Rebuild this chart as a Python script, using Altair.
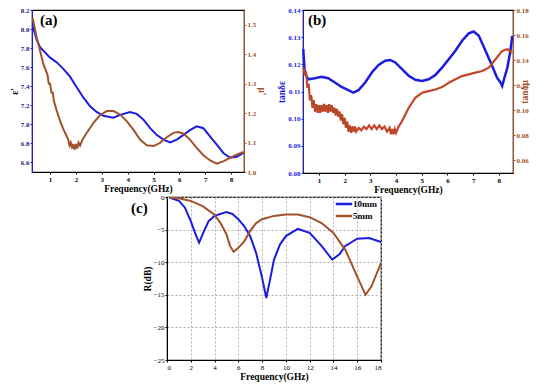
import altair as alt
import pandas as pd

FONT = "Liberation Serif"
BLUE = "#1c1ce0"
BROWN = "#a0522d"
RED = "#e23b2b"

# ---------- panel (a) ----------
a_eps_f = [0.32, 0.48, 0.61, 1.0, 1.26, 1.52, 1.77, 2.03, 2.29, 2.55, 2.80, 3.06, 3.45, 3.71, 4.09,
           4.35, 4.61, 4.87, 5.12, 5.38, 5.64, 5.90, 6.16, 6.41, 6.67, 6.93, 7.19, 7.44, 7.70, 7.96,
           8.22, 8.48]
a_eps = [8.04, 7.89, 7.81, 7.70, 7.65, 7.58, 7.50, 7.39, 7.28, 7.19, 7.13, 7.09, 7.07, 7.10, 7.13,
         7.11, 7.05, 6.96, 6.89, 6.84, 6.81, 6.84, 6.89, 6.94, 6.98, 6.96, 6.87, 6.79, 6.70, 6.65,
         6.66, 6.70]

a_mu_f = [0.32, 0.48, 0.74, 0.90, 0.95, 1.00, 1.05, 1.10, 1.15, 1.26, 1.40, 1.52, 1.60, 1.70, 1.75,
          1.80, 1.85, 1.90, 1.95, 2.00, 2.05, 2.10, 2.16, 2.25, 2.42, 2.68, 2.93, 3.19, 3.45, 3.71,
          3.96, 4.22, 4.48, 4.74, 5.00, 5.25, 5.51, 5.77, 5.96, 6.16, 6.41, 6.67, 6.93, 7.19, 7.44,
          7.70, 7.96, 8.22, 8.48]
a_mu = [1.525, 1.457, 1.366, 1.33, 1.30, 1.30, 1.27, 1.27, 1.24, 1.207, 1.17, 1.144, 1.13, 1.11, 1.09,
        1.10, 1.08, 1.095, 1.075, 1.095, 1.08, 1.10, 1.09, 1.11, 1.133, 1.167, 1.193, 1.207, 1.207, 1.195,
        1.173, 1.144, 1.110, 1.091, 1.088, 1.099, 1.118, 1.133, 1.136, 1.130, 1.110, 1.082, 1.057, 1.039, 1.028,
        1.036, 1.048, 1.059, 1.068]

# ---------- panel (b) ----------
b_eps_f = [0.39, 0.45, 0.58, 0.84, 1.10, 1.36, 1.62, 1.88, 2.14, 2.34, 2.54, 2.80, 3.06, 3.32, 3.58,
           3.77, 3.97, 4.23, 4.49, 4.75, 5.01, 5.27, 5.53, 5.79, 6.05, 6.31, 6.57, 6.83, 7.02, 7.22,
           7.48, 7.74, 7.93, 8.05, 8.13, 8.20, 8.33, 8.45, 8.52]
b_eps = [0.1256, 0.117, 0.1145, 0.1149, 0.1154, 0.1149, 0.1133, 0.1117, 0.1105, 0.1096, 0.1105, 0.1133,
         0.117, 0.1198, 0.1213, 0.1216, 0.1207, 0.1182, 0.1158, 0.1143, 0.1139, 0.1145, 0.1161, 0.1188,
         0.1219, 0.125, 0.1287, 0.1314, 0.1321, 0.1305, 0.125, 0.1194, 0.1151, 0.1135, 0.112, 0.1145,
         0.1188, 0.125, 0.1305]

b_mu_f = [0.40, 0.45, 0.50, 0.55, 0.60, 0.65, 0.70, 0.75, 0.80, 0.85, 0.90, 0.95, 1.00, 1.05, 1.10,
          1.15, 1.20, 1.25, 1.30, 1.35, 1.40, 1.45, 1.50, 1.55, 1.60, 1.65, 1.70, 1.75, 1.80, 1.85,
          1.90, 1.95, 2.00, 2.05, 2.10, 2.15, 2.20, 2.25, 2.30, 2.35, 2.40, 2.45, 2.55, 2.65, 2.75,
          2.85, 2.95, 3.05, 3.15, 3.25, 3.35, 3.45, 3.55, 3.65, 3.75, 3.80, 3.85, 3.90, 3.95, 4.00,
          4.10, 4.23, 4.49, 4.75, 5.01, 5.27, 5.53, 5.79, 6.05, 6.31, 6.57, 6.83, 7.09, 7.35, 7.61,
          7.87, 8.13, 8.33, 8.52]
b_mu = [0.134, 0.128, 0.131, 0.118, 0.121, 0.108, 0.112, 0.102, 0.108, 0.099, 0.105, 0.098, 0.104, 0.098, 0.104,
        0.099, 0.105, 0.099, 0.104, 0.098, 0.105, 0.099, 0.104, 0.098, 0.102, 0.096, 0.101, 0.095, 0.099, 0.092,
        0.097, 0.089, 0.094, 0.086, 0.091, 0.083, 0.088, 0.082, 0.087, 0.083, 0.087, 0.083, 0.086, 0.084, 0.087,
        0.085, 0.088, 0.085, 0.088, 0.085, 0.088, 0.085, 0.087, 0.083, 0.086, 0.081, 0.085, 0.081, 0.085, 0.082,
        0.087, 0.0912, 0.1019, 0.110, 0.114, 0.1153, 0.1166, 0.1185, 0.122, 0.1247, 0.1273, 0.1287, 0.130, 0.1313, 0.134,
        0.1407, 0.1474, 0.1487, 0.146]

# ---------- panel (c) ----------
c_f10 = [0.2, 1.0, 1.5, 2.0, 2.4, 2.7, 3.0, 3.5, 4.0, 5.0, 5.5, 6.0, 6.5, 7.0, 7.5, 8.0, 8.35, 8.7,
         9.0, 9.5, 10.0, 11.0, 12.0, 13.0, 13.9, 14.5, 15.0, 16.0, 17.0, 18.0]
c_r10 = [-0.1, -0.6, -1.6, -3.7, -5.7, -7.0, -5.7, -3.7, -2.9, -2.3, -2.6, -3.4, -4.5, -6.0, -8.6, -12.4,
         -15.5, -12.4, -9.6, -7.3, -6.0, -4.9, -5.5, -7.5, -9.6, -8.8, -7.5, -6.4, -6.3, -6.9]
c_f5 = [0.2, 1.0, 2.0, 3.0, 4.0, 4.5, 5.0, 5.3, 5.6, 6.0, 6.5, 7.0, 7.5, 8.0, 9.0, 10.0, 11.0, 12.0,
        13.0, 14.0, 15.0, 16.0, 16.7, 17.2, 18.0]
c_r5 = [-0.1, -0.2, -0.6, -1.4, -2.7, -4.0, -5.7, -7.5, -8.4, -7.8, -6.8, -5.2, -4.0, -3.4, -2.9, -2.7,
        -2.7, -3.1, -4.0, -5.5, -8.1, -12.2, -15.0, -13.7, -10.1]
c_series = ["10mm", "5mm"]

a_x_ticks = [1, 2, 3, 4, 5, 6, 7, 8]
a_left_ticks = [6.6, 6.8, 7.0, 7.2, 7.4, 7.6, 7.8, 8.0, 8.2]
a_right_ticks = [1.0, 1.1, 1.2, 1.3, 1.4, 1.5]
b_left_ticks = [0.08, 0.09, 0.10, 0.11, 0.12, 0.13, 0.14]
b_right_ticks = [0.06, 0.08, 0.10, 0.12, 0.14, 0.16, 0.18]
c_x_ticks = [0, 2, 4, 6, 8, 10, 12, 14, 16, 18]
c_y_ticks = [0, -5, -10, -15, -20, -25]

VIEW = alt.ViewConfig(stroke="black", strokeWidth=1.2)


def axis(**kw):
    base = dict(labelFont=FONT, labelFontWeight="bold", labelFontSize=7, titleFont=FONT,
                titleFontWeight="bold", titleFontSize=9.5, tickSize=2, grid=False,
                domainColor="black", tickColor="black", labelColor="black", titleColor="black",
                labelPadding=1, titlePadding=1)
    base.update(kw)
    return alt.Axis(**base)


def xaxis(vals, dom):
    return alt.X("f:Q", scale=alt.Scale(domain=dom, nice=False, zero=False),
                 axis=axis(values=vals, format="d", title="Frequency(GHz)"))


def label(txt, x, y):
    return alt.Chart(pd.DataFrame({"t": [txt]})).mark_text(
        font=FONT, fontWeight="bold", fontSize=15, align="left", baseline="top", color="black"
    ).encode(text="t:N", x=alt.value(x), y=alt.value(y))


# panel a
da1 = pd.DataFrame({"f": a_eps_f, "v": a_eps})
da2 = pd.DataFrame({"f": a_mu_f, "v": a_mu})
pa1 = alt.Chart(da1).mark_line(color=BLUE, strokeWidth=2).encode(
    x=xaxis(a_x_ticks, [0.3, 8.5]),
    y=alt.Y("v:Q", scale=alt.Scale(domain=[6.5, 8.2], nice=False, zero=False),
            axis=axis(values=a_left_ticks, format=".1f", title="ε'", domainColor=BLUE,
                      tickColor=BLUE, labelColor="#22227a")))
pa2 = alt.Chart(da2).mark_line(color=BROWN, strokeWidth=2).encode(
    x=xaxis(a_x_ticks, [0.3, 8.5]),
    y=alt.Y("v:Q", scale=alt.Scale(domain=[1.0, 1.55], nice=False, zero=False),
            axis=axis(orient="right", values=a_right_ticks, format=".1f", title="μ'",
                      domainColor=BROWN, tickColor=BROWN, labelColor=BROWN, titleColor=BROWN)))
panel_a = alt.layer(pa1, pa2, label("(a)", 8, 3)).resolve_scale(y="independent").properties(
    width=212, height=162, view=VIEW)

# panel b
db1 = pd.DataFrame({"f": b_eps_f, "v": b_eps})
db2 = pd.DataFrame({"f": b_mu_f, "v": b_mu})
pb1 = alt.Chart(db1).mark_line(color=BLUE, strokeWidth=2.5).encode(
    x=xaxis(a_x_ticks, [0.38, 8.55]),
    y=alt.Y("v:Q", scale=alt.Scale(domain=[0.08, 0.14], nice=False, zero=False),
            axis=axis(values=b_left_ticks, format=".2f", title="tanδε", domainColor=BLUE,
                      tickColor=BLUE, labelColor=BLUE, titleColor=BLUE)))
ymu = alt.Y("v:Q", scale=alt.Scale(domain=[0.05, 0.18], nice=False, zero=False),
            axis=axis(orient="right", values=b_right_ticks, format=".2f", title="tanδμ",
                      titleAngle=-90, domainColor=BROWN, tickColor=BROWN, labelColor=BROWN,
                      titleColor=BROWN))
pb2 = alt.Chart(db2).mark_line(color=RED, strokeWidth=2.2).encode(x=xaxis(a_x_ticks, [0.38, 8.55]), y=ymu)
pb3 = alt.Chart(db2).mark_line(color=BROWN, strokeWidth=1.0).encode(x=xaxis(a_x_ticks, [0.38, 8.55]), y=ymu)
panel_b = alt.layer(pb1, alt.layer(pb2, pb3), label("(b)", 5, 3)).resolve_scale(y="independent").properties(
    width=210, height=163, view=VIEW)

# panel c
dc = pd.concat([
    pd.DataFrame({"f": c_f10, "v": c_r10, "s": c_series[0]}),
    pd.DataFrame({"f": c_f5, "v": c_r5, "s": c_series[1]}),
])
pc = alt.Chart(dc).mark_line(strokeWidth=2).encode(
    x=alt.X("f:Q", scale=alt.Scale(domain=[0, 18], nice=False),
            axis=axis(values=c_x_ticks, format="d", title="Frequency(GHz)", grid=True,
                      gridDash=[2, 2], gridColor="#b0b0b0", labelFontWeight="normal")),
    y=alt.Y("v:Q", scale=alt.Scale(domain=[-25, 0], nice=False),
            axis=axis(values=c_y_ticks, format="d", title="R(dB)", grid=True,
                      gridDash=[2, 2], gridColor="#b0b0b0", labelFontWeight="normal")),
    color=alt.Color("s:N", scale=alt.Scale(domain=c_series, range=[BLUE, BROWN]),
                    legend=alt.Legend(title=None, orient="none", legendX=305, legendY=187,
                                      symbolType="M-1.5,0L1.5,0", symbolSize=121,
                                      symbolStrokeWidth=2.5, labelFont=FONT,
                                      labelFontWeight="bold", labelFontSize=9,
                                      rowPadding=0, padding=0, labelOffset=2)),
    detail="s:N",
)
panel_c = alt.layer(pc, label("(c)", -36, 4)).properties(width=214, height=163, view=VIEW)

spacer = alt.Chart(pd.DataFrame({"z": [0]})).mark_point(opacity=0).properties(
    width=82, height=10, view=alt.ViewConfig(stroke="transparent"))
bottom = alt.hconcat(spacer, panel_c, spacing=15)

top = alt.hconcat(panel_a, panel_b, spacing=8)
chart = alt.vconcat(top, bottom, spacing=-3).properties(
    padding={"left": 0, "top": -3, "right": 0, "bottom": 0}
).configure(background="white")

chart.save("out.html", embed_options={"renderer": "svg", "actions": False})
